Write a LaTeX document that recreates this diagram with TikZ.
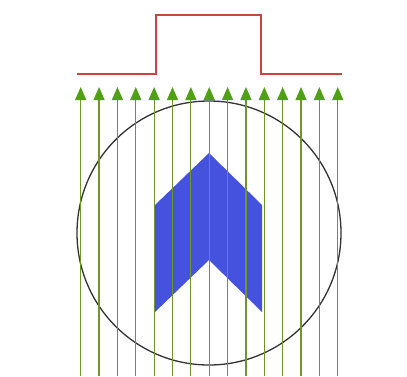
\documentclass[tikz,border=0pt]{standalone}
\usepackage{tikz}
\usetikzlibrary{arrows.meta}
\definecolor{pulsered}{RGB}{200,70,60}
\definecolor{raygreen}{RGB}{110,150,40}
\definecolor{tipgreen}{RGB}{80,160,20}
\definecolor{chevronblue}{RGB}{68,82,222}
\tikzset{
    pulse/.style={pulsered,line width=1.1pt},
    ray/.style={raygreen,line width=1.2pt,-{Triangle[width=11pt,length=13pt,fill=tipgreen,color=tipgreen]}},
    body/.style={fill=chevronblue,draw=none},
    rim/.style={draw=black!80,line width=1.3pt}
}
\begin{document}
\begin{tikzpicture}[x=1pt,y=-1pt]
\useasboundingbox (0,0) rectangle (407,376);
% the pulse profile above
\draw[pulse] (77,74) -- (156,74) -- (156,15) -- (261,15) -- (261,74) -- (342,74);
% object inside the field
\fill[body] (209,153) -- (262,205) -- (262,312) -- (209,260) -- (155,312) -- (155,205) -- cycle;
\draw[rim] (209,233) circle (132);
% parallel rays
\foreach \i in {0,...,14}
    \draw[ray] (80.7+18.36*\i,376) -- (80.7+18.36*\i,87);
\end{tikzpicture}
\end{document}
